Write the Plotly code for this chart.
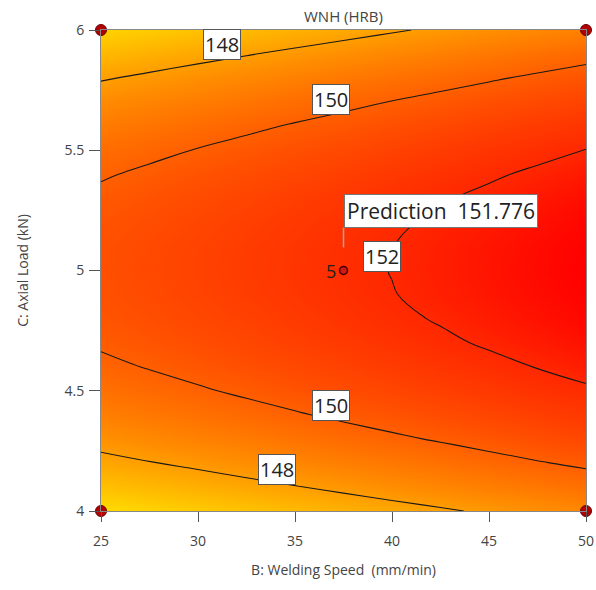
import plotly.graph_objects as go

# Factor levels (grid)
speed = [25, 27.5, 30, 32.5, 35, 37.5, 40, 42.5, 45, 47.5, 50]          # B: Welding Speed (mm/min)
load = [4.0, 4.1, 4.2, 4.3, 4.4, 4.5, 4.6, 4.7, 4.8, 4.9, 5.0,
        5.1, 5.2, 5.3, 5.4, 5.5, 5.6, 5.7, 5.8, 5.9, 6.0]                # C: Axial Load (kN)

# WNH (HRB) response estimated over the grid (rows = load, cols = speed)
wnh = [
    [146.15, 146.40, 146.65, 146.89, 147.14, 147.39, 147.64, 147.88, 148.13, 148.38, 148.63],
    [146.97, 147.22, 147.47, 147.72, 147.96, 148.21, 148.46, 148.71, 148.95, 149.20, 149.45],
    [147.71, 147.96, 148.20, 148.45, 148.70, 148.95, 149.19, 149.44, 149.69, 149.94, 150.18],
    [148.36, 148.61, 148.86, 149.10, 149.35, 149.60, 149.85, 150.09, 150.34, 150.59, 150.84],
    [148.93, 149.18, 149.42, 149.67, 149.92, 150.17, 150.41, 150.66, 150.91, 151.16, 151.40],
    [149.41, 149.66, 149.90, 150.15, 150.40, 150.65, 150.89, 151.14, 151.39, 151.64, 151.88],
    [149.80, 150.05, 150.30, 150.55, 150.79, 151.04, 151.29, 151.54, 151.78, 152.03, 152.28],
    [150.12, 150.36, 150.61, 150.86, 151.11, 151.35, 151.60, 151.85, 152.10, 152.34, 152.59],
    [150.34, 150.59, 150.84, 151.08, 151.33, 151.58, 151.83, 152.07, 152.32, 152.57, 152.82],
    [150.48, 150.73, 150.98, 151.23, 151.47, 151.72, 151.97, 152.22, 152.46, 152.71, 152.96],
    [150.54, 150.79, 151.03, 151.28, 151.53, 151.78, 152.02, 152.27, 152.52, 152.77, 153.01],
    [150.51, 150.76, 151.00, 151.25, 151.50, 151.75, 151.99, 152.24, 152.49, 152.74, 152.98],
    [150.39, 150.64, 150.89, 151.14, 151.38, 151.63, 151.88, 152.13, 152.37, 152.62, 152.87],
    [150.20, 150.44, 150.69, 150.94, 151.19, 151.43, 151.68, 151.93, 152.18, 152.42, 152.67],
    [149.91, 150.16, 150.41, 150.65, 150.90, 151.15, 151.40, 151.64, 151.89, 152.14, 152.39],
    [149.54, 149.79, 150.04, 150.28, 150.53, 150.78, 151.03, 151.27, 151.52, 151.77, 152.02],
    [149.09, 149.33, 149.58, 149.83, 150.08, 150.32, 150.57, 150.82, 151.07, 151.31, 151.56],
    [148.55, 148.79, 149.04, 149.29, 149.54, 149.78, 150.03, 150.28, 150.53, 150.77, 151.02],
    [147.92, 148.17, 148.42, 148.66, 148.91, 149.16, 149.41, 149.65, 149.90, 150.15, 150.40],
    [147.21, 147.46, 147.71, 147.95, 148.20, 148.45, 148.70, 148.94, 149.19, 149.44, 149.69],
    [146.42, 146.66, 146.91, 147.16, 147.41, 147.65, 147.90, 148.15, 148.40, 148.64, 148.89],
]

contour_levels = [148, 150, 152]
# contour label positions (speed, load, text)
label_speed = [31.23, 36.83, 39.48, 36.83, 34.05]
label_load = [5.938, 5.712, 5.06, 4.437, 4.173]
label_text = ["148", "150", "152", "150", "148"]

corner_speed = [25, 50, 25, 50]
corner_load = [4, 4, 6, 6]

pred_speed = [37.5]
pred_load = [5]
pred_value = 151.776
pred_runs = "5"

colorscale = [
    [0.0, "#ffdc00"],
    [0.343, "#ff8c00"],
    [0.634, "#ff5000"],
    [0.853, "#ff2800"],
    [1.0, "#ff0000"],
]

fig = go.Figure()
fig.add_trace(go.Heatmap(
    x=speed, y=load, z=wnh, zsmooth="best", colorscale=colorscale,
    zmin=146.15, zmax=153.01, showscale=False, hoverinfo="skip",
))
fig.add_trace(go.Contour(
    x=speed, y=load, z=wnh,
    contours=dict(start=contour_levels[0], end=contour_levels[-1], size=2, coloring="none"),
    line=dict(color="#1a1a1a", width=1.1, smoothing=1.3),
    showscale=False, hoverinfo="skip",
))
fig.add_trace(go.Scatter(
    x=corner_speed, y=corner_load, mode="markers", cliponaxis=False,
    marker=dict(size=11, color="#b40000", line=dict(color="#6a0000", width=1)),
    hoverinfo="skip", showlegend=False,
))
fig.add_trace(go.Scatter(
    x=pred_speed, y=pred_load, mode="markers",
    marker=dict(size=8, color="#d01818", line=dict(color="#400000", width=1.5)),
    hoverinfo="skip", showlegend=False,
))

annotations = []
for xs, ys, t in zip(label_speed, label_load, label_text):
    annotations.append(dict(
        x=xs, y=ys, text=t, showarrow=False, xref="x", yref="y",
        font=dict(size=20, color="#222", family="Open Sans"),
        bgcolor="white", bordercolor="#555", borderwidth=1, borderpad=1,
    ))
annotations.append(dict(
    x=pred_speed[0], y=5.178, text="Prediction  %.3f" % pred_value, showarrow=False,
    xanchor="left", yanchor="bottom", xref="x", yref="y",
    font=dict(size=21, color="#222", family="Open Sans"),
    bgcolor="white", bordercolor="#777", borderwidth=1, borderpad=2,
))
annotations.append(dict(
    x=pred_speed[0], y=pred_load[0], text=pred_runs, showarrow=False,
    xanchor="right", yanchor="middle", xshift=-6, xref="x", yref="y",
    font=dict(size=18, color="#222", family="Open Sans"),
))
annotations.append(dict(
    x=0.5, y=1, xref="paper", yref="paper", yanchor="bottom", yshift=2,
    text="WNH (HRB)", showarrow=False,
    font=dict(size=15, color="#444", family="Open Sans"),
))

fig.update_layout(
    width=596, height=590,
    margin=dict(l=101, r=10, t=30, b=79),
    paper_bgcolor="white", plot_bgcolor="white",
    showlegend=False,
    annotations=annotations,
    shapes=[dict(type="line", xref="x", yref="y", x0=37.5, x1=37.5, y0=5.096, y1=5.178,
                 line=dict(color="#a8a8a8", width=1.5))],
    font=dict(family="Open Sans", color="#444"),
)
fig.update_xaxes(
    range=[25, 50], tickvals=[25, 30, 35, 40, 45, 50], ticks="outside", ticklen=10,
    tickcolor="#555", showline=True, linecolor="#888", mirror=True, showgrid=False,
    zeroline=False, tickfont=dict(size=14, color="#444"), automargin=False,
    ticklabelstandoff=7,
    title=dict(text="B: Welding Speed  (mm/min)", font=dict(size=14, color="#444"), standoff=16),
)
fig.update_yaxes(
    range=[4, 6], tickvals=[4, 4.5, 5, 5.5, 6], ticks="outside", ticklen=11,
    tickcolor="#555", showline=True, linecolor="#888", mirror=True, showgrid=False,
    zeroline=False, tickfont=dict(size=14, color="#444"), automargin=False,
    ticklabelstandoff=2,
    title=dict(text="C: Axial Load (kN)", font=dict(size=14, color="#444"), standoff=32),
)

fig.write_html("out.html")
